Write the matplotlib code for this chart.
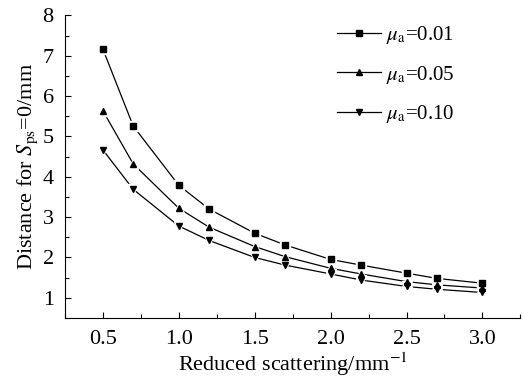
import numpy as np
import matplotlib
matplotlib.use("Agg")
import matplotlib.pyplot as plt
from matplotlib.ticker import MultipleLocator

plt.rcParams['font.family'] = ['Liberation Serif', 'DejaVu Serif']
plt.rcParams['mathtext.fontset'] = 'stix'

scattering = [0.5, 0.7, 1.0, 1.2, 1.5, 1.7, 2.0, 2.2, 2.5, 2.7, 3.0]
dist_001 = [7.17, 5.26, 3.79, 3.20, 2.60, 2.31, 1.95, 1.81, 1.61, 1.48, 1.36]
dist_005 = [5.64, 4.32, 3.22, 2.75, 2.27, 2.02, 1.73, 1.59, 1.40, 1.32, 1.24]
dist_010 = [4.67, 3.69, 2.78, 2.42, 2.00, 1.81, 1.59, 1.44, 1.28, 1.21, 1.13]
labels = [r'$\mu_\mathrm{a}$=0.01', r'$\mu_\mathrm{a}$=0.05', r'$\mu_\mathrm{a}$=0.10']
markers = ['s', '^', 'v']

fig = plt.figure(figsize=(5.23, 3.78), dpi=100)
ax = fig.add_axes([0.124, 0.159, 0.871, 0.800])

for y, lab, m in zip([dist_001, dist_005, dist_010], labels, markers):
    ax.plot(scattering, y, color='black', lw=0.9, zorder=2)
    ax.plot(scattering, y, ls='none', marker=m, ms=7.5, color='white', zorder=3)
    ax.plot(scattering, y, ls='none', marker=m, ms=4.6, color='black', zorder=4)
    ax.plot([], [], color='black', lw=0.9, marker=m, ms=4, label=lab)

ax.set_xlim(0.25, 3.25)
ax.set_ylim(0.5, 8)
ax.xaxis.set_minor_locator(MultipleLocator(0.25))
ax.yaxis.set_minor_locator(MultipleLocator(0.5))
ax.set_xticks([0.5, 1.0, 1.5, 2.0, 2.5, 3.0])
ax.set_xticklabels(['0.5', '1.0', '1.5', '2.0', '2.5', '3.0'])
ax.set_yticks([1, 2, 3, 4, 5, 6, 7, 8])
ax.tick_params(which='both', direction='in', labelsize=16, width=0.8)
ax.tick_params(which='major', length=4)
ax.tick_params(which='minor', length=3)
ax.tick_params(axis='x', pad=9)
ax.tick_params(axis='y', pad=8)
for s in ['top', 'right']:
    ax.spines[s].set_visible(False)

ax.set_xlabel('Reduced scattering/mm$^{-1}$', fontsize=16, labelpad=1)
ax.set_ylabel(r'Distance for $S_\mathrm{ps}$=0/mm', fontsize=16, labelpad=2)

ax.legend(loc='upper left', bbox_to_anchor=(337 / 523, 1 - 24 / 378),
          bbox_transform=fig.transFigure, frameon=False, fontsize=15,
          handlelength=2.1, labelspacing=0.85, handletextpad=0.25,
          borderpad=0, borderaxespad=0)

fig.savefig('out.png', dpi=100)
